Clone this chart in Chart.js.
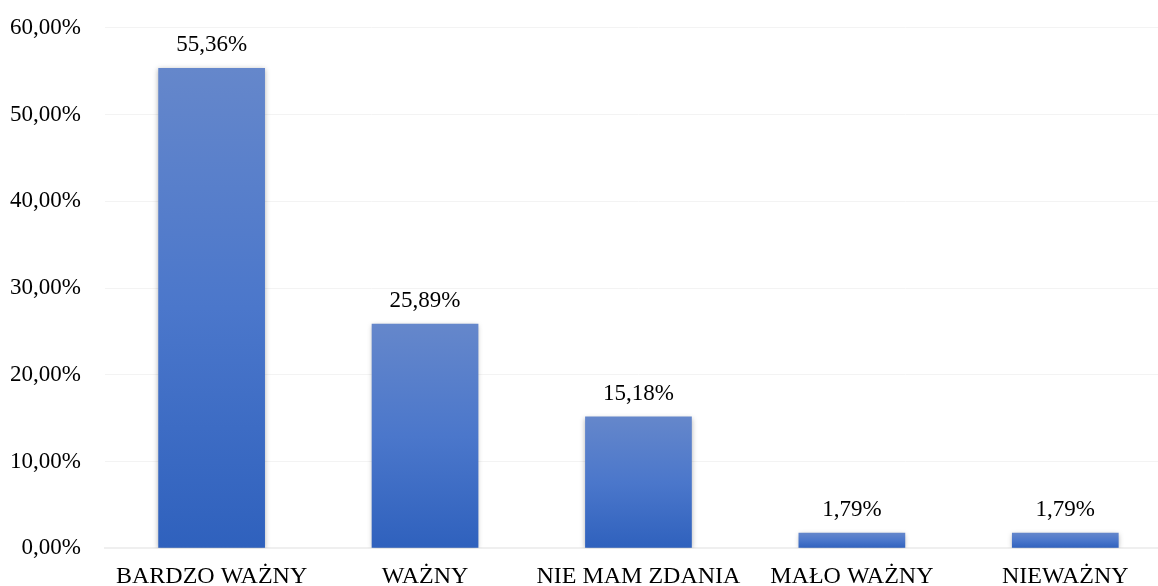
<!DOCTYPE html>
<html>
<head>
<meta charset="utf-8">
<script src="https://cdn.jsdelivr.net/npm/chart.js@4"></script>
<style>
 html, body { margin: 0; padding: 0; background: #fff; overflow: hidden; }
 #wrap { width: 1172px; height: 596px; margin-top: -10px; }
</style>
</head>
<body>
<div id="wrap"><canvas id="barChart"></canvas></div>
<script>
// dane
var categories = ["BARDZO WAŻNY", "WAŻNY", "NIE MAM ZDANIA", "MAŁO WAŻNY", "NIEWAŻNY"];
var values = [55.36, 25.89, 15.18, 1.79, 1.79];
var tickStep = 10;
var tickMax = 60;

var serif = '"Liberation Serif", "Times New Roman", serif';

function pl(v) {
 return v.toFixed(2).replace('.', ',') + '%';
}

// gradient na slupkach (jasniejszy u gory)
function barFill(context) {
 var chart = context.chart;
 var ys = chart.scales && chart.scales.y;
 if (!ys || !chart.chartArea || context.raw == null) return '#4472c4';
 var top = ys.getPixelForValue(context.raw);
 var bottom = ys.getPixelForValue(0);
 if (!isFinite(top) || !isFinite(bottom) || top >= bottom) return '#4472c4';
 var g = chart.ctx.createLinearGradient(0, top, 0, bottom);
 g.addColorStop(0, '#6587cb');
 g.addColorStop(0.5, '#4b77cb');
 g.addColorStop(1, '#2f61bd');
 return g;
}

var shadowPlugin = {
 id: 'shadow',
 beforeDatasetsDraw: function(chart) {
  var ctx = chart.ctx;
  ctx.save();
  ctx.shadowColor = 'rgba(0,0,0,0.3)';
  ctx.shadowBlur = 5;
  ctx.shadowOffsetX = 0;
  ctx.shadowOffsetY = 1;
 },
 afterDatasetsDraw: function(chart) {
  chart.ctx.restore();
 }
};

var labelPlugin = {
 id: 'valueLabels',
 afterDatasetsDraw: function(chart) {
  var ctx = chart.ctx;
  var meta = chart.getDatasetMeta(0);
  ctx.save();
  ctx.font = '23px ' + serif;
  ctx.fillStyle = '#000';
  ctx.textAlign = 'center';
  ctx.textBaseline = 'middle';
  meta.data.forEach(function(bar, i) {
   ctx.fillText(pl(values[i]), bar.x, bar.y - 23);
  });
  ctx.restore();
 }
};

var chartDiv = document.getElementById('barChart');
var myChart = new Chart(chartDiv, {
 type: 'bar',
 data: {
  labels: categories,
  datasets: [{
   data: values,
   backgroundColor: barFill,
   borderWidth: 0,
   categoryPercentage: 1.0,
   barPercentage: 0.5
  }]
 },
 options: {
  responsive: true,
  maintainAspectRatio: false,
  animation: false,
  layout: { padding: { top: -6, left: -14, right: 0, bottom: -12 } },
  plugins: {
   legend: { display: false },
   tooltip: { enabled: false }
  },
  scales: {
   x: {
    grid: { display: false },
    border: { display: true, color: '#efefef', width: 2 },
    ticks: {
     color: '#000',
     padding: 6,
     maxRotation: 0,
     autoSkip: false,
     font: { family: serif, size: 24 }
    }
   },
   y: {
    min: 0,
    max: tickMax,
    grid: { color: '#f3f3f3', drawTicks: false },
    border: { display: false },
    ticks: {
     stepSize: tickStep,
     color: '#000',
     padding: 24,
     font: { family: serif, size: 23 },
     callback: function(v) { return pl(v); }
    }
   }
  }
 },
 plugins: [shadowPlugin, labelPlugin]
});
</script>
</body>
</html>
